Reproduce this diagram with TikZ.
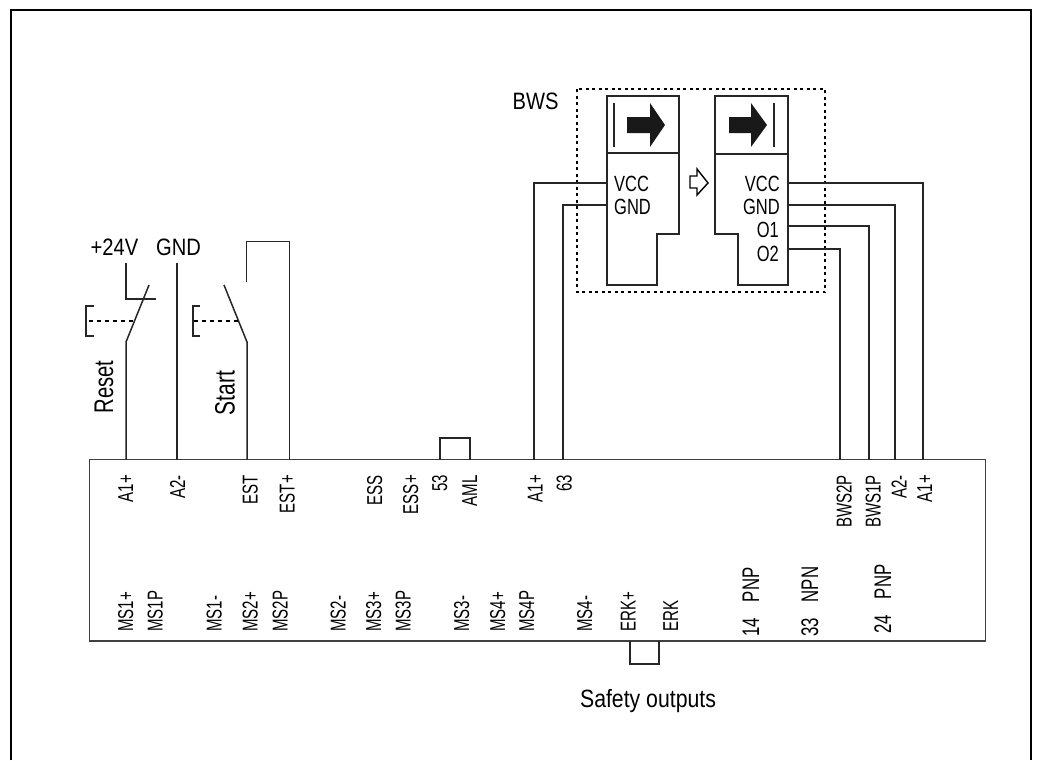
\documentclass[tikz,border=0pt]{standalone}
\usepackage{fontspec}
\setmainfont[FakeStretch=0.85]{Liberation Sans}
\newfontfamily\narrowf[FakeStretch=0.75]{Liberation Sans}
\newfontfamily\narrowerf[FakeStretch=0.7]{Liberation Sans}
\tikzset{
 wire/.style={line width=1.5pt,draw=black!85},
 thinwire/.style={line width=1pt,draw=black!85},
 box/.style={line width=1.4pt,draw=black!85},
 dashl/.style={line width=1.7pt,dash pattern=on 4pt off 4pt,draw=black},
 vtbase/.style={rotate=90,inner sep=0pt,text height=15pt,text depth=0pt,font=\narrowerf\fontsize{21.5}{21.5}\selectfont},
 vt/.style={vtbase,anchor=east},
 vb/.style={vtbase,anchor=west},
 ht/.style={inner sep=0pt,font=\fontsize{23.7}{24}\selectfont},
 rt/.style={rotate=90,inner sep=0pt,font=\narrowf\fontsize{27}{27}\selectfont},
 st/.style={inner sep=0pt,font=\narrowf\fontsize{22}{22}\selectfont},
}
\begin{document}
\begin{tikzpicture}[x=1pt,y=-1pt]
\useasboundingbox (0,0) rectangle (1038,760);
\fill[white] (0,0) rectangle (1038,760);
\draw[line width=2pt] (11,760) -- (11,10) -- (1031,10) -- (1031,760);
\node[draw=black!75,line width=1.1pt,minimum width=895.5pt,minimum height=181.5pt,inner sep=0pt,outer sep=0pt] (dev) at (537.5,550.25) {};
% device labels top
\foreach \n/\x/\t in {a/125.5/A1+,b/177.5/A2-,c/250/EST,d/287/EST+,e/374.5/ESS,f/410.5/ESS+,g/439.5/53,h/469.5/AML,i/535/A1+,j/564/63,k/844/BWS2P,l/873/BWS1P,m/899/A2-,n/924.5/A1+}
 {\node[vt] (t\n) at (\x,475) {\t};}
% device labels bottom
\foreach \n/\x/\y/\t in {a/125.5/632/MS1+,b/155/632/MS1P,c/214/632/MS1-,d/250/632/MS2+,e/280/632/MS2P,f/338/632/MS2-,g/373.5/632/MS3+,h/403/632/MS3P,i/461.5/632/MS3-,j/497.5/632/MS4+,k/526.5/632/MS4P,l/584.5/632/MS4-,m/628/632/ERK+,n/670.5/632/ERK}
 {\node[vb] (b\n) at (\x,\y) {\t};}
\foreach \n/\x/\y/\t in {o/751.5/637/14\hspace{16pt}PNP,p/810.5/637/33\hspace{16pt}NPN,q/883.5/634/24\hspace{16pt}PNP}
 {\node[vb,font=\narrowerf\fontsize{24}{24}\selectfont] (b\n) at (\x,\y) {\t};}
% pins
\foreach \n/\x in {p1/126,p2/177,p3/247,p4/289,p5/440,p6/470,p7/534,p8/563,p9/840,p10/869,p11/895,p12/923,p13/630,p14/659}
 {\coordinate (\n) at (\x,0);}
% links
\draw[wire] (dev.north -| p5) -- ++(0,-21.5) -| (dev.north -| p6);
\draw[wire] (dev.south -| p13) -- ++(0,23) -| (dev.south -| p14);
\node[ht,font=\fontsize{25}{25}\selectfont] (safe) at (648,701) {Safety outputs};
% left
\node[ht] (v24) at (114.5,247) {+24V};
\node[ht] (gnd) at (178.5,247) {GND};
\coordinate (s1a) at (126,342);
\coordinate (s1b) at (149,285);
\coordinate (s1c) at (126,263);
\coordinate (s1d) at (156,299);
\coordinate (gw) at (177,263);
\draw[wire] (dev.north -| p1) -- (s1a) -- (s1b);
\draw[wire] (s1c) |- (s1d);
\draw[wire] (gw) -- (dev.north -| p2);
\draw[box] (94,306) -- (86,306) -- (86,336) -- (94,336);
\draw[dashl] (89,321) -- (135,321);
\node[rt] (reset) at (104,387) {Reset};
\coordinate (s2a) at (247,342);
\coordinate (s2b) at (224,285);
\coordinate (s2c) at (246,282);
\coordinate (s2d) at (246,241);
\draw[wire] (dev.north -| p3) -- (s2a) -- (s2b);
\draw[thinwire] (s2c) -- (s2d) -| (dev.north -| p4);
\draw[box] (200,306) -- (193,306) -- (193,336) -- (200,336);
\draw[dashl] (194,321) -- (240,321);
\node[rt,font=\narrowf\fontsize{28}{28}\selectfont] (start) at (225,393) {Start};
% BWS
\node[ht] (bws) at (535.5,101) {BWS};
\draw[line width=1.5pt,dash pattern=on 3pt off 3.5pt] (577,89) rectangle (825,292);
% left sensor
\draw[box] (607,96) -- (679,96) -- (679,234) -- (657,234) -- (657,285) -- (607,285) -- cycle;
\draw[box] (606,153) -- (679,153);
\draw[wire] (614,103) -- (614,147);
\fill[black!90] (627,117) -- (650,117) -- (650,103) -- (665,125) -- (650,147) -- (650,133) -- (627,133) -- cycle;
% right sensor
\draw[box] (715,96) -- (788,96) -- (788,285) -- (738,285) -- (738,234) -- (715,234) -- cycle;
\draw[box] (714,154) -- (788,154);
\draw[wire] (774,103) -- (774,147);
\fill[black!90] (729,117) -- (751,117) -- (751,103) -- (767,125) -- (751,147) -- (751,133) -- (729,133) -- cycle;
% hollow arrow
\draw[line width=1.4pt] (690,176) -- (697,176) -- (697,169) -- (708,183) -- (697,195) -- (697,188) -- (690,188) -- cycle;
\node[st,anchor=west] (lv) at (614,183.5) {VCC};
\node[st,anchor=west] (lg) at (614,207) {GND};
\node[st,anchor=east] (rv) at (780,183.5) {VCC};
\node[st,anchor=east] (rg) at (780,207) {GND};
\node[st,anchor=east] (ro1) at (779,230) {O1};
\node[st,anchor=east] (ro2) at (779,253.5) {O2};
% sensor wires
\coordinate (lw1) at (607,183);
\coordinate (lw2) at (607,205);
\coordinate (rw1) at (788,183);
\coordinate (rw2) at (788,205);
\coordinate (rw3) at (788,226);
\coordinate (rw4) at (788,249);
\draw[wire] (lw1) -| (dev.north -| p7);
\draw[wire] (lw2) -| (dev.north -| p8);
\draw[wire] (rw1) -| (dev.north -| p12);
\draw[wire] (rw2) -| (dev.north -| p11);
\draw[wire] (rw3) -| (dev.north -| p10);
\draw[wire] (rw4) -| (dev.north -| p9);
\end{tikzpicture}
\end{document}
